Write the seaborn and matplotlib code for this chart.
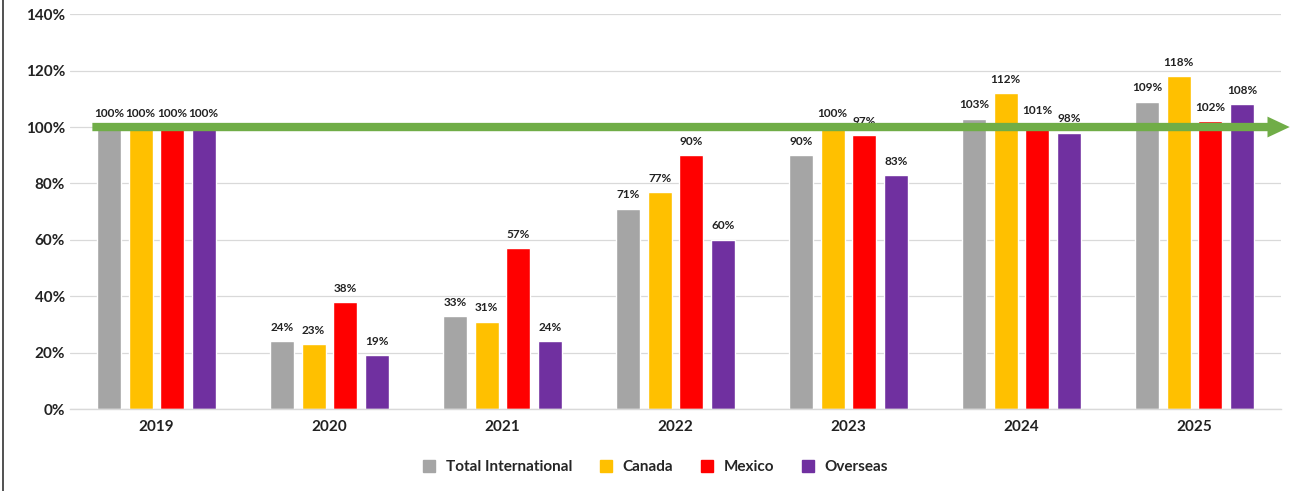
import matplotlib
matplotlib.use("Agg")
import matplotlib.pyplot as plt
import seaborn as sns
import pandas as pd
from matplotlib.lines import Line2D
from matplotlib.patches import FancyArrowPatch

years = ["2019", "2020", "2021", "2022", "2023", "2024", "2025"]
series = ["Total International", "Canada", "Mexico", "Overseas"]
total_intl = [100, 24, 33, 71, 90, 103, 109]
canada = [100, 23, 31, 77, 100, 112, 118]
mexico = [100, 38, 57, 90, 97, 101, 102]
overseas = [100, 19, 24, 60, 83, 98, 108]
colors = ["#A5A5A5", "#FFC000", "#FF0000", "#7030A0"]

rows = []
for name, vals in zip(series, [total_intl, canada, mexico, overseas]):
    for y, v in zip(years, vals):
        rows.append({"Year": y, "Series": name, "Value": v})
df = pd.DataFrame(rows)

sns.set_theme(style="white")
plt.rcParams["font.family"] = ["Lato", "DejaVu Sans"]

fig = plt.figure(figsize=(12.94, 4.91), dpi=100)
ax = fig.add_axes([0.054, 0.167, 0.936, 0.804])

sns.barplot(data=df, x="Year", y="Value", hue="Series", hue_order=series,
            order=years, palette=colors, width=0.73, gap=0.24, ax=ax,
            legend=False, saturation=1)

for cont in ax.containers:
    ax.bar_label(cont, labels=[f"{int(round(b.get_height()))}%" for b in cont],
                 padding=6, fontsize=8.5, fontweight="bold", color="#222222")

ax.set_ylim(0, 140)
ax.set_xlim(-0.5, 6.5)
ax.set_yticks(range(0, 141, 20))
ax.set_yticklabels([f"{t}%" for t in range(0, 141, 20)], fontsize=11,
                   fontweight="bold", color="#222222")
ax.tick_params(axis="x", labelsize=11, pad=8, colors="#222222")
for lab in ax.get_xticklabels():
    lab.set_fontweight("bold")
ax.tick_params(axis="both", length=0)
ax.set_xlabel("")
ax.set_ylabel("")
ax.yaxis.grid(True, color="#D9D9D9", linewidth=0.9)
ax.set_axisbelow(True)
for s in ["top", "right", "left"]:
    ax.spines[s].set_visible(False)
ax.spines["bottom"].set_color("#D9D9D9")
ax.spines["bottom"].set_linewidth(1.0)

# green reference arrow at 100%
arrow = FancyArrowPatch((-0.37, 100), (6.55, 100),
                        arrowstyle="simple,head_length=16,head_width=15,tail_width=6",
                        mutation_scale=1, color="#70AD47", lw=0,
                        shrinkA=0, shrinkB=0, clip_on=False, zorder=5)
ax.add_patch(arrow)

handles = [Line2D([0], [0], marker="s", linestyle="", markersize=8,
                  markerfacecolor=c, markeredgecolor=c) for c in colors]
leg = fig.legend(handles, series, loc="center", bbox_to_anchor=(0.503, 0.049),
                 ncol=4, frameon=False, handletextpad=0.1, columnspacing=1.2,
                 prop={"weight": "bold", "size": 11})

# left border line
fig.add_artist(Line2D([0.002, 0.002], [0, 1], transform=fig.transFigure,
                      color="#333333", linewidth=1.2))

fig.savefig("out.png", dpi=100)
